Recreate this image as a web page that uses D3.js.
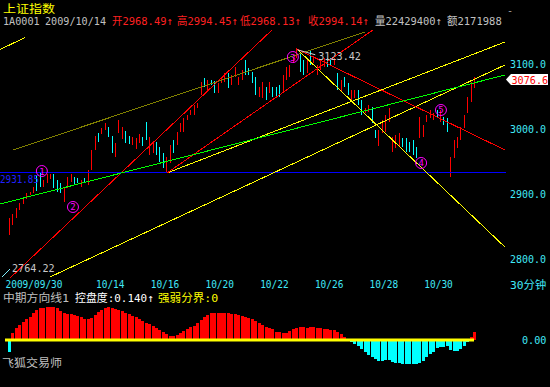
<!DOCTYPE html>
<html>
<head>
<meta charset="utf-8">
<script src="https://cdn.jsdelivr.net/npm/d3@7"></script>
<style>
  body { margin: 0; background: #000; }
  svg { display: block; }
</style>
</head>
<body>
<div class="chart"></div>
<script>
// ---- data ----
// 30 minute bars, 2009/09/30 .. 2009/11/02
var barHigh = [
  2861.5, 2867.7, 2876.9, 2884.6, 2890.8, 2900.0, 2901.5, 2909.2, 2927.7, 2931.85,
  2920.0, 2929.2, 2929.2, 2929.2, 2920.0, 2915.4, 2907.7, 2924.6, 2929.2, 2924.6,
  2923.1, 2920.0, 2923.1, 2935.4, 2966.2, 2987.7, 2992.3, 3000.0, 3007.7, 3001.5,
  2987.7, 2976.9, 3012.3, 3001.5, 2995.4, 2987.7, 2986.2, 2984.6, 2990.8, 2986.2,
  3009.2, 2986.2, 2978.5, 2978.5, 2970.8, 2961.5, 2955.4, 2973.8, 2981.5, 2993.8,
  3007.7, 3015.4, 3020.0, 3027.7, 3035.4, 3038.5, 3070.8, 3076.9, 3073.8, 3073.8,
  3072.3, 3069.2, 3078.5, 3084.6, 3084.6, 3081.5, 3093.8, 3078.5, 3089.2, 3104.6,
  3092.3, 3086.2, 3078.5, 3063.1, 3070.8, 3063.1, 3070.8, 3063.1, 3063.1, 3066.2,
  3081.5, 3093.8, 3096.9, 3109.2, 3123.42, 3115.4, 3104.6, 3107.7, 3118.5, 3109.2,
  3096.9, 3104.6, 3107.7, 3107.7, 3107.7, 3107.7, 3084.6, 3073.8, 3078.5, 3069.2,
  3058.5, 3058.5, 3058.5, 3043.1, 3030.8, 3035.4, 3032.3, 2996.9, 2996.9, 3012.3,
  3020.0, 3030.8, 2986.2, 2989.2, 2992.3, 2984.6, 2984.6, 2978.5, 2981.5, 2970.8,
  3016.9, 3004.6, 3020.0, 3027.7, 3023.1, 3027.7, 3027.7, 3016.9, 3015.4, 2955.4,
  2981.5, 2986.2, 3001.5, 3020.0, 3047.7, 3070.8, 3078.0
];
var barLow = [
  2835.4, 2850.8, 2861.5, 2873.8, 2883.1, 2890.8, 2896.9, 2900.0, 2903.1, 2909.2,
  2909.2, 2915.4, 2921.5, 2907.7, 2901.5, 2900.0, 2886.2, 2907.7, 2916.9, 2912.3,
  2915.4, 2909.2, 2915.4, 2912.3, 2935.4, 2966.2, 2978.5, 2990.8, 2996.9, 2986.2,
  2961.5, 2955.4, 2992.3, 2983.1, 2976.9, 2975.4, 2973.8, 2967.7, 2976.9, 2972.3,
  2981.5, 2958.5, 2961.5, 2958.5, 2947.7, 2938.5, 2930.8, 2946.2, 2961.5, 2973.8,
  2993.8, 2993.8, 3012.3, 3020.0, 3020.0, 3030.8, 3050.8, 3063.1, 3058.5, 3066.2,
  3053.8, 3053.8, 3069.2, 3070.8, 3061.5, 3066.2, 3078.5, 3066.2, 3073.8, 3081.5,
  3081.5, 3069.2, 3050.8, 3047.7, 3046.2, 3043.1, 3053.8, 3047.7, 3046.2, 3047.7,
  3055.4, 3073.8, 3078.5, 3100.0, 3107.7, 3086.2, 3081.5, 3084.6, 3096.9, 3100.0,
  3081.5, 3089.2, 3093.8, 3093.8, 3095.4, 3096.9, 3058.5, 3055.4, 3063.1, 3050.8,
  3043.1, 3046.2, 3035.4, 3020.0, 3023.1, 3024.6, 3007.7, 2984.6, 2972.3, 2992.3,
  2993.8, 3009.2, 2963.1, 2969.2, 2970.8, 2970.8, 2963.1, 2963.1, 2958.5, 2953.8,
  2984.6, 2986.2, 3009.2, 3015.4, 3012.3, 3015.4, 3009.2, 3004.6, 2993.8, 2924.6,
  2953.8, 2969.2, 2981.5, 3000.0, 3023.1, 3040.0, 3061.5
];
// 1 = up bar (red), 0 = down bar (cyan)
var barUp = [
  1,1,1,1,1,1,1,1,0,0,  1,1,1,0,0,0,1,1,1,0,  0,1,0,1,1,1,0,1,1,0,
  0,1,1,1,0,0,1,1,1,0,  0,1,1,0,0,0,1,1,0,1,  1,1,1,1,1,1,1,0,1,0,
  0,1,1,1,0,1,1,1,1,0,  0,0,0,1,1,0,1,0,0,0,  1,1,1,1,1,0,0,1,0,1,
  1,1,1,0,0,1,0,1,0,0,  1,1,0,0,1,1,0,0,1,1,  1,1,1,1,1,0,0,0,0,0,
  1,1,1,1,1,0,1,0,0,1,  1,1,1,1,1,1,1
];
// 中期方向线1 indicator, one value per bar
var indVal = [
  -0.12, 0.07, 0.12, 0.15, 0.18, 0.21, 0.23, 0.27, 0.30, 0.32,
  0.32, 0.33, 0.33, 0.33, 0.32, 0.29, 0.27, 0.26, 0.26, 0.25,
  0.24, 0.23, 0.21, 0.21, 0.22, 0.25, 0.28, 0.30, 0.32, 0.33,
  0.32, 0.31, 0.30, 0.29, 0.27, 0.26, 0.24, 0.23, 0.21, 0.19,
  0.17, 0.16, 0.14, 0.12, 0.10, 0.08, 0.06, 0.04, 0.04, 0.05,
  0.07, 0.09, 0.11, 0.13, 0.14, 0.17, 0.20, 0.23, 0.25, 0.27,
  0.27, 0.27, 0.27, 0.27, 0.27, 0.26, 0.26, 0.25, 0.24, 0.23,
  0.22, 0.21, 0.19, 0.17, 0.15, 0.13, 0.12, 0.11, 0.08, 0.08,
  0.07, 0.07, 0.09, 0.11, 0.12, 0.13, 0.13, 0.12, 0.13, 0.13,
  0.12, 0.12, 0.11, 0.11, 0.10, 0.10, 0.08, 0.06, 0.03, 0.01,
  -0.02, -0.04, -0.06, -0.09, -0.12, -0.15, -0.17, -0.19, -0.21, -0.21,
  -0.20, -0.20, -0.22, -0.23, -0.23, -0.24, -0.24, -0.24, -0.24, -0.24,
  -0.23, -0.21, -0.17, -0.14, -0.12, -0.08, -0.07, -0.07, -0.06, -0.10,
  -0.11, -0.11, -0.09, -0.06, -0.02, 0.03, 0.08
];
var priceTicks = [3100, 3000, 2900, 2800];
var dayStarts = [0, 25, 41, 57, 73, 89, 105, 121];
var dayLabels = ["2009/09/30", "10/14", "10/16", "10/20", "10/22", "10/26", "10/28", "10/30"];
var refLevel = 2931.85;
var lastClose = 3076.6;
var lowPrice = 2764.22;
var highBar = 84;
// trend lines drawn by hand on the chart: [bar index, price]
var trendLines = [
  {kind: "olive",  from: [1.2, 2966.2],  to: [104.1, 3147.7]},
  {kind: "yellow", from: [46.2, 2930.8], to: [145.0, 3132.3]},
  {kind: "yellow", from: [12.0, 2770.8], to: [145.0, 3096.9]},
  {kind: "yellow", from: [-2.6, 3120.8], to: [4.7, 3139.2]},
  {kind: "yellow", from: [84.2, 3121.5], to: [145.0, 2816.9]},
  {kind: "red",    from: [0.3, 2769.2],  to: [76.9, 3150.8]},
  {kind: "red",    from: [46.2, 2930.8], to: [106.4, 3150.8]},
  {kind: "red",    from: [84.2, 3121.5], to: [145.0, 2966.2]},
  {kind: "green",  from: [-2.6, 2883.1], to: [145.0, 3081.5]}
];
// circled wave numbers
var waveMarks = [
  {n: 1, at: [9.6, 2933.8]},
  {n: 2, at: [18.7, 2878.5]},
  {n: 3, at: [83.0, 3109.2]},
  {n: 4, at: [120.5, 2946.2]},
  {n: 5, at: [126.3, 3027.7]}
];

// ---- styles ----
var width = 550, height = 387;
var mono = "'DejaVu Sans Mono', 'Noto Sans CJK SC', monospace";
var cjk = "'Noto Sans CJK SC', 'DejaVu Sans Mono', sans-serif";
var lineColors = {olive: "#808000", yellow: "#ffff00", red: "#ff0000", green: "#00ff00"};
var upColor = "#ff0000", downColor = "#00ffff", axisColor = "#40e8f8";

var svg = d3.select(".chart").append("svg")
  .attr("width", width)
  .attr("height", height)
  .style("background", "#000");

var x = d3.scaleLinear().domain([0, 136]).range([9, 474.12]);
var y = d3.scaleLinear().domain([2800, 3100]).range([258, 63]);
var yInd = d3.scaleLinear().domain([0, 0.30]).range([340, 310]);

// bitmap-like text: ascii 6.1px cell, CJK 12px cell
function cells(s) {
  var w = 0;
  for (var c of s) w += /[\u3000-\u9fff\uff00-\uffef]/.test(c) ? 12 : 6.1;
  return w;
}
function txt(str, px, py, color, size, len) {
  return svg.append("text")
    .attr("x", px).attr("y", py)
    .attr("fill", color)
    .attr("font-family", mono)
    .attr("font-size", size || 11)
    .attr("textLength", len || cells(str))
    .attr("lengthAdjust", "spacingAndGlyphs")
    .text(str);
}

// header
svg.append("text").attr("x", 3).attr("y", 12.5)
  .attr("fill", "#ffff00").attr("font-family", cjk).attr("font-size", 11.5)
  .attr("textLength", 52).attr("lengthAdjust", "spacingAndGlyphs")
  .text("上证指数");
var header = [
  ["1A0001", 3, "#c0c0c0"],
  ["2009/10/14", 45, "#c0c0c0"],
  ["开2968.49↑", 112, "#ff2020"],
  ["高2994.45↑", 177, "#ff2020"],
  ["低2968.13↑", 240, "#ff2020"],
  ["收2994.14↑", 308, "#ff2020"],
  ["量22429400↑", 375, "#c0c0c0"],
  ["额2171988", 447, "#c0c0c0"]
];
header.forEach(function(h) { txt(h[0], h[1], 25, h[2]); });
txt("-", 507, 14, "#c0c0c0", 8);

// main price area
svg.append("clipPath").attr("id", "plot")
  .append("rect").attr("x", 0).attr("y", 28).attr("width", 506).attr("height", 250);
var g = svg.append("g").attr("clip-path", "url(#plot)");

// reference level label sits under the bars
txt(refLevel.toFixed(2), 0, 183, "#2020ff", 11, 39);

// bars
g.selectAll("rect.bar")
  .data(d3.range(barHigh.length))
  .join("rect")
    .attr("class", "bar")
    .attr("x", function(i) { return Math.round(x(i)); })
    .attr("y", function(i) { return y(barHigh[i]); })
    .attr("width", 1)
    .attr("height", function(i) { return Math.max(1, y(barLow[i]) - y(barHigh[i])); })
    .attr("fill", function(i) { return barUp[i] ? upColor : downColor; })
    .attr("shape-rendering", "crispEdges");

// horizontal reference line
g.append("line")
  .attr("x1", 0).attr("x2", 506)
  .attr("y1", Math.round(y(refLevel)) + 0.5).attr("y2", Math.round(y(refLevel)) + 0.5)
  .attr("stroke", "#0000ff");

// trend lines
g.selectAll("line.trend")
  .data(trendLines)
  .join("line")
    .attr("class", "trend")
    .attr("x1", function(d) { return x(d.from[0]); })
    .attr("y1", function(d) { return y(d.from[1]); })
    .attr("x2", function(d) { return x(d.to[0]); })
    .attr("y2", function(d) { return y(d.to[1]); })
    .attr("stroke", function(d) { return lineColors[d.kind]; })
    .attr("stroke-width", 1)
    .attr("shape-rendering", "crispEdges");

// high / low annotations
var hx = x(highBar), hy = y(barHigh[highBar]);
svg.append("line").attr("x1", hx + 1).attr("y1", hy + 2).attr("x2", hx + 19).attr("y2", hy + 7)
  .attr("stroke", "#d0d0d0");
txt("3123.42", hx + 22, hy + 12, "#c8c8c8");
svg.append("line").attr("x1", 2).attr("y1", 277).attr("x2", 10).attr("y2", 269)
  .attr("stroke", "#80f0ff");
txt(lowPrice.toFixed(2), 12, 272, "#c8c8c8");

// wave marks
var wm = svg.selectAll("g.wave").data(waveMarks).join("g")
  .attr("class", "wave")
  .attr("transform", function(d) { return "translate(" + x(d.at[0]) + "," + y(d.at[1]) + ")"; });
wm.append("circle").attr("r", 5.5).attr("fill", "none").attr("stroke", "#ff00ff");
wm.append("text").attr("y", 3.5).attr("text-anchor", "middle")
  .attr("fill", "#ff00ff").attr("font-family", mono).attr("font-size", 9)
  .text(function(d) { return d.n; });

// right price axis
var ga = svg.append("g").attr("transform", "translate(510,0)")
  .call(d3.axisRight(y).tickValues(priceTicks).tickFormat(d3.format(".1f")).tickSize(0).tickPadding(0));
ga.select(".domain").remove();
ga.selectAll("text")
  .attr("fill", axisColor).attr("font-family", mono).attr("font-size", 11)
  .attr("dy", "0.4em")
  .attr("textLength", 36).attr("lengthAdjust", "spacingAndGlyphs");

// last price tag
var cy = y(lastClose) + 1.3;
svg.append("polygon")
  .attr("points", [[506, cy], [511, cy - 5.5], [548, cy - 5.5], [548, cy + 5.5], [511, cy + 5.5]].join(" "))
  .attr("fill", "#ffffff");
txt(lastClose.toFixed(1), 511.5, cy + 4.3, "#ff0000");

// date axis
var gx = svg.append("g").attr("transform", "translate(0,279)")
  .call(d3.axisBottom(x).tickValues(dayStarts)
    .tickFormat(function(d, i) { return dayLabels[i]; }).tickSize(0).tickPadding(1));
gx.select(".domain").remove();
gx.selectAll("text")
  .attr("fill", axisColor).attr("font-family", mono).attr("font-size", 11)
  .attr("text-anchor", "start")
  .attr("x", function(d, i) { return i === 0 ? -4 : 1; })
  .attr("textLength", function(d, i) { return dayLabels[i].length * 5.7; })
  .attr("lengthAdjust", "spacingAndGlyphs");
txt("30分钟", 510, 289, axisColor);

// indicator panel
txt("中期方向线1", 3, 302, "#c0c0c0");
txt("控盘度:0.140↑", 75, 302, "#ffffff");
txt("强弱分界:0", 158, 302, "#ffff00");

svg.selectAll("rect.ind")
  .data(d3.range(indVal.length))
  .join("rect")
    .attr("class", "ind")
    .attr("x", function(i) { return Math.round(x(i)) - 1; })
    .attr("width", 3)
    .attr("y", function(i) { return Math.min(yInd(indVal[i]), yInd(0)); })
    .attr("height", function(i) { return Math.abs(yInd(indVal[i]) - yInd(0)); })
    .attr("fill", function(i) { return indVal[i] >= 0 ? upColor : downColor; })
    .attr("shape-rendering", "crispEdges");

svg.append("line")
  .attr("x1", 5).attr("x2", Math.round(x(indVal.length - 1)))
  .attr("y1", yInd(0)).attr("y2", yInd(0))
  .attr("stroke", "#ffff00").attr("stroke-width", 3);

var gi = svg.append("g").attr("transform", "translate(522,0)")
  .call(d3.axisRight(yInd).tickValues([0]).tickFormat(d3.format(".2f")).tickSize(0).tickPadding(0));
gi.select(".domain").remove();
gi.selectAll("text")
  .attr("fill", axisColor).attr("font-family", mono).attr("font-size", 11)
  .attr("dy", "0.3em")
  .attr("textLength", 24.4).attr("lengthAdjust", "spacingAndGlyphs");

txt("飞狐交易师", 2, 367, "#c0c0c0");
</script>
</body>
</html>
